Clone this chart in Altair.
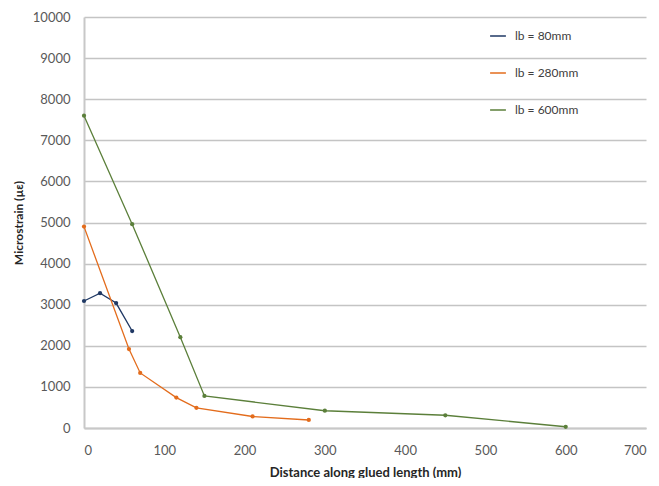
import altair as alt
import pandas as pd

series_names = ["lb = 80mm", "lb = 280mm", "lb = 600mm"]
colors = ["#1f3864", "#e36c1c", "#5b7f3a"]

x_80 = [0, 20, 40, 60]
y_80 = [3090, 3280, 3040, 2360]

x_280 = [0, 56, 70, 115, 140, 210, 280]
y_280 = [4900, 1920, 1340, 740, 490, 280, 195]

x_600 = [0, 60, 120, 150, 300, 450, 600]
y_600 = [7600, 4960, 2210, 780, 420, 310, 30]

rows = []
for name, xs, ys in zip(series_names, [x_80, x_280, x_600], [y_80, y_280, y_600]):
    for i, (xv, yv) in enumerate(zip(xs, ys)):
        rows.append({"series": name, "x": xv, "y": yv, "order": i})
df = pd.DataFrame(rows)

font = "Lato"

chart = alt.Chart(df).mark_line(
    strokeWidth=1.3,
    point=alt.OverlayMarkDef(filled=True, size=18),
).encode(
    x=alt.X("x:Q", scale=alt.Scale(domain=[0, 700], nice=False),
            axis=alt.Axis(title="Distance along glued length (mm)", values=list(range(0, 701, 100)),
                          format="d",
                          grid=False, domain=True, domainColor="#c8c8c8", domainWidth=2,
                          ticks=False, labelPadding=16, labelFontSize=13, labelColor="#595959",
                          titleFontSize=13, titleFontWeight="bold", titleColor="#262626",
                          titlePadding=9, labelFont=font, titleFont=font)),
    y=alt.Y("y:Q", scale=alt.Scale(domain=[0, 10000], nice=False),
            axis=alt.Axis(title="Microstrain (µε)", values=list(range(0, 10001, 1000)),
                          format="d",
                          grid=True, gridColor="#c4c4c4", gridWidth=1.5,
                          domain=True, domainColor="#c8c8c8", domainWidth=2,
                          ticks=False, labelPadding=14, labelFontSize=13, labelColor="#595959",
                          titleFontSize=12, titleFontWeight="bold", titleColor="#262626",
                          titlePadding=7, labelFont=font, titleFont=font)),
    color=alt.Color("series:N", scale=alt.Scale(domain=series_names, range=colors),
                    legend=alt.Legend(title=None, orient="none", legendX=405, legendY=10,
                                      rowPadding=22, labelFontSize=12, labelColor="#404040",
                                      labelFont=font, symbolType="stroke", symbolSize=250,
                                      symbolStrokeWidth=1.5, labelOffset=8)),
    order="order:Q",
).properties(
    width=562, height=411,
    autosize=alt.AutoSizeParams(type="none"),
    padding={"left": 76, "top": 9, "right": 5, "bottom": 50},
).configure_view(stroke=None)

chart.save("out.html", embed_options={"renderer": "svg", "actions": False})
